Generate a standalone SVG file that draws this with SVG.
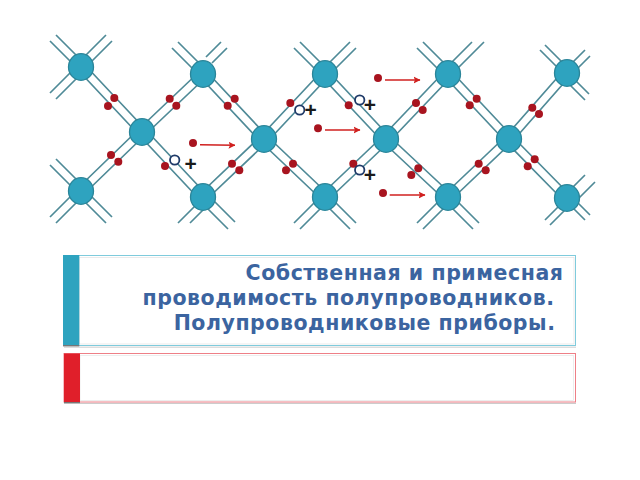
<svg xmlns="http://www.w3.org/2000/svg" width="640" height="480" viewBox="0 0 640 480">
<style>
.b{fill:none;stroke:#4f8a97;stroke-width:1.7}
.n{fill:#2ea3bf;stroke:#2b8599;stroke-width:1.3}
.d{fill:#a8141f}
.h{fill:#fff;stroke:#1f3a68;stroke-width:1.8}
.p{font:bold 21px "Liberation Sans",sans-serif;fill:#1a1a1a;text-anchor:middle}
.a{fill:none;stroke:#d0201f;stroke-width:1.6;marker-end:url(#ah)}
.t{font:bold 20.5px "DejaVu Sans",sans-serif;letter-spacing:.54px;fill:#3b64a0;text-anchor:end}
</style>
<defs>
<marker id="ah" markerUnits="userSpaceOnUse" markerWidth="7" markerHeight="8" refX="6.5" refY="4" orient="auto"><path d="M0 .5L7 4L0 7.5L1.5 4Z" fill="#d0201f"/></marker>
<path id="ul" d="M-25-32L-3-10M-31-26L-9-4"/>
<path id="ur" d="M25-32L3-10M31-26L9-4"/>
<path id="ll" d="M-25 32L-3 10M-31 26L-9 4"/>
<path id="lr" d="M25 32L3 10M31 26L9 4"/>
</defs>
<rect width="640" height="480" fill="#fff"/>
<g id="connectors" class="b">
<path d="M84 64L145 129M78 70L139 135M145 135L206 77M139 129L200 71M206 71L267 136M200 77L261 142M267 142L328 77M261 136L322 71M328 71L389 136M322 77L383 142M389 142L451 77M383 136L445 71M451 71L512 136M445 77L506 142M512 142L570 76M506 136L564 70"/>
<path d="M84 194L145 135M78 188L139 129M145 129L206 194M139 135L200 200M206 200L267 142M200 194L261 136M267 136L328 194M261 142L322 200M328 200L389 142M322 194L383 136M389 136L451 194M383 142L445 200M451 200L512 142M445 194L506 136M512 136L570 195M506 142L564 201"/>
<use href="#ul" x="81" y="67"/><use href="#ur" x="81" y="67"/><use href="#ll" x="81" y="67"/>
<use href="#ul" x="203" y="74"/><path d="M221 42L206 57M227 48L212 63"/>
<use href="#ul" x="325" y="74"/><use href="#ur" x="325" y="74"/>
<use href="#ul" x="448" y="74"/><path d="M472 42L451 63M484 42L457 69"/>
<path d="M545 45L562 62M540 50L557 67M585 50L572 63M590 56L577 69M589 94L573 78M585 100L568 83"/>
<use href="#ul" x="81" y="191"/><use href="#ll" x="81" y="191"/><use href="#lr" x="81" y="191"/>
<path d="M178 223L200 201M190 223L206 207M228 229L206 207M235 222L212 199"/>
<use href="#ll" x="325" y="197"/><use href="#lr" x="325" y="197"/>
<use href="#ll" x="448" y="197"/><use href="#lr" x="448" y="197"/>
<path d="M585 175L572 188M595 182L577 200M545 220L561 204M550 225L566 209M590 215L573 198M585 220L568 203"/>
</g>
<g id="n1"><ellipse class="n" cx="81" cy="67" rx="12.5" ry="13.3"/></g>
<g id="n2"><ellipse class="n" cx="203" cy="74" rx="12.5" ry="13.3"/></g>
<g id="n3"><ellipse class="n" cx="325" cy="74" rx="12.5" ry="13.3"/></g>
<g id="n4"><ellipse class="n" cx="448" cy="74" rx="12.5" ry="13.3"/></g>
<g id="n5"><ellipse class="n" cx="567" cy="73" rx="12.5" ry="13.3"/></g>
<g id="n6"><ellipse class="n" cx="142" cy="132" rx="12.5" ry="13.3"/></g>
<g id="n7"><ellipse class="n" cx="264" cy="139" rx="12.5" ry="13.3"/></g>
<g id="n8"><ellipse class="n" cx="386" cy="139" rx="12.5" ry="13.3"/></g>
<g id="n9"><ellipse class="n" cx="509" cy="139" rx="12.5" ry="13.3"/></g>
<g id="n10"><ellipse class="n" cx="81" cy="191" rx="12.5" ry="13.3"/></g>
<g id="n11"><ellipse class="n" cx="203" cy="197" rx="12.5" ry="13.3"/></g>
<g id="n12"><ellipse class="n" cx="325" cy="197" rx="12.5" ry="13.3"/></g>
<g id="n13"><ellipse class="n" cx="448" cy="197" rx="12.5" ry="13.3"/></g>
<g id="n14"><ellipse class="n" cx="567" cy="198" rx="12.5" ry="13.3"/></g>
<g id="electrons" class="d">
<circle cx="114.3" cy="98" r="4"/><circle cx="108" cy="106" r="4"/><circle cx="169.7" cy="98.7" r="4"/><circle cx="176.3" cy="105.7" r="4"/><circle cx="234.7" cy="98.7" r="4"/><circle cx="227.7" cy="105.7" r="4"/><circle cx="290.3" cy="103" r="4"/><circle cx="318" cy="128.3" r="4"/><circle cx="193" cy="143" r="4"/><circle cx="111" cy="155" r="4"/><circle cx="118.3" cy="161.7" r="4"/><circle cx="165" cy="166" r="4"/><circle cx="232" cy="163.7" r="4"/><circle cx="239.3" cy="170.3" r="4"/><circle cx="293" cy="163.7" r="4"/><circle cx="286" cy="170.3" r="4"/>
<circle cx="348.7" cy="105.3" r="4"/><circle cx="378" cy="78" r="4"/><circle cx="416" cy="103" r="4"/><circle cx="422.7" cy="110" r="4"/><circle cx="469.7" cy="105.3" r="4"/><circle cx="476.7" cy="98.7" r="4"/><circle cx="532.3" cy="107.7" r="4"/><circle cx="539" cy="114" r="4"/><circle cx="353.3" cy="163.7" r="4"/><circle cx="418.3" cy="168.3" r="4"/><circle cx="411.3" cy="175" r="4"/><circle cx="383" cy="193" r="4"/><circle cx="478.7" cy="163.7" r="4"/><circle cx="485.7" cy="170.3" r="4"/><circle cx="534.7" cy="159.3" r="4"/><circle cx="527.7" cy="166.3" r="4"/>
</g>
<g id="holes">
<circle class="h" cx="174.7" cy="160" r="4.7"/><circle class="h" cx="299.7" cy="110" r="4.7"/><circle class="h" cx="359.7" cy="100" r="4.7"/><circle class="h" cx="359.7" cy="170" r="4.7"/>
<text class="p" x="190.7" y="171">+</text><text class="p" x="310.7" y="117">+</text><text class="p" x="370" y="111.5">+</text><text class="p" x="370" y="182">+</text>
</g>
<g id="arrows">
<path class="a" d="M200 144.7L235 145.3"/><path class="a" d="M385 80H420"/><path class="a" d="M325 130H360"/><path class="a" d="M389.7 195H425"/>
</g>
<g id="title-panel">
<rect x="64" y="346.5" width="512" height="1.5" fill="#ddd"/>
<rect x="63.5" y="255.5" width="512" height="90" fill="#fff" stroke="#7fcbdc"/>
<rect x="79.5" y="257.5" width="494.5" height="86.5" fill="none" stroke="#e2e2e2" stroke-width=".7"/>
<rect x="63" y="255" width="16.3" height="90" fill="#2ea3bf"/>
<rect x="63" y="345" width="16.3" height="1.4" fill="#777"/>
<text class="t" x="563.5" y="280">Собственная и примесная</text>
<text class="t" x="554.5" y="305">проводимость полупроводников.</text>
<text class="t" x="555.5" y="330">Полупроводниковые приборы.</text>
</g>
<g id="subtitle-panel">
<rect x="64" y="402.8" width="512" height="1.2" fill="#ccc"/>
<rect x="64" y="353.5" width="511.5" height="48.5" fill="#fff" stroke="#ee7f87"/>
<rect x="80" y="355.5" width="493.5" height="45" fill="none" stroke="#e6e6e6" stroke-width=".7"/>
<rect x="64" y="353.5" width="16" height="48.5" fill="#e01f2a"/>
<rect x="64" y="402" width="16" height="1.2" fill="#777"/>
</g>
</svg>
